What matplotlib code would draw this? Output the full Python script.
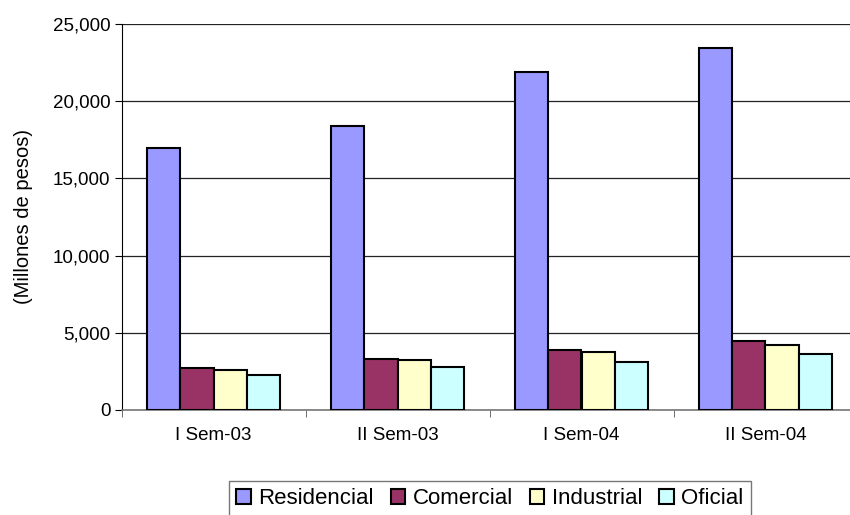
import numpy as np
import matplotlib
matplotlib.use("Agg")
import matplotlib.pyplot as plt
from matplotlib.ticker import FuncFormatter

plt.rcParams['font.family'] = ['Liberation Sans', 'DejaVu Sans']

# datos (millones de pesos)
periodos = ['I Sem-03', 'II Sem-03', 'I Sem-04', 'II Sem-04']
series = ['Residencial', 'Comercial', 'Industrial', 'Oficial']
residencial = [17000, 18400, 21900, 23450]
comercial = [2720, 3290, 3880, 4480]
industrial = [2620, 3270, 3750, 4240]
oficial = [2250, 2810, 3140, 3640]
colores = ['#9999FF', '#993366', '#FFFFCC', '#CCFFFF']

valores = [residencial, comercial, industrial, oficial]

fig = plt.figure(figsize=(8.5, 5.15), dpi=100)
ax = fig.add_axes([121.5 / 850, 105 / 515, 736 / 850, 386 / 515])

x = np.arange(len(periodos))
ancho = 0.182
for i, (nombre, vals, c) in enumerate(zip(series, valores, colores)):
    ax.bar(x - 1.5 * ancho + i * ancho, vals, ancho, color=c, edgecolor='black',
           linewidth=1.5, label=nombre, zorder=3)

ax.set_xlim(-0.5, 3.5)
ax.set_ylim(0, 25000)
ax.set_yticks(np.arange(0, 25001, 5000))
ax.yaxis.set_major_formatter(FuncFormatter(lambda v, p: f'{int(v):,}'))
ax.grid(True, axis='y', color='#222222', linewidth=0.9, zorder=0)

ax.set_xticks(x)
ax.set_xticklabels(periodos, fontsize=13.5)
ax.set_xticks(np.arange(-0.5, 3.6, 1.0), minor=True)
ax.tick_params(axis='x', which='major', length=0, pad=12)
ax.tick_params(axis='x', which='minor', length=5, direction='out', color='#555555')
ax.tick_params(axis='y', length=5, direction='out', labelsize=13.5, pad=3)

ax.spines['top'].set_visible(False)
ax.spines['right'].set_visible(False)
ax.spines['left'].set_color('black')
ax.spines['bottom'].set_color('#777777')
ax.spines['bottom'].set_linewidth(1.2)

ax.set_ylabel('(Millones de pesos)', fontsize=14.5, labelpad=14)

leg = fig.legend(loc='center', bbox_to_anchor=(490 / 850, 1 - 499 / 515), ncol=4,
                 fontsize=16, frameon=True, fancybox=False, edgecolor='#555555',
                 handlelength=0.65, handleheight=0.65, handletextpad=0.35,
                 columnspacing=0.75, borderpad=0.35)
leg.get_frame().set_linewidth(1.0)

fig.savefig('out.png', dpi=100)
